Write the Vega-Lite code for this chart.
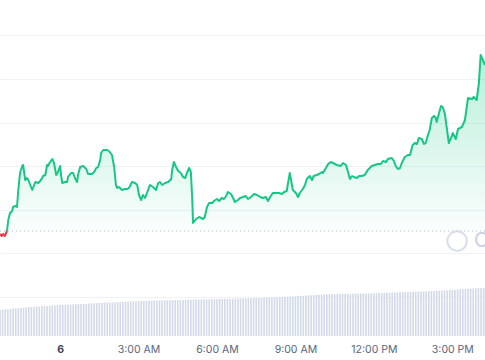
{
"$schema": "https://vega.github.io/schema/vega-lite/v6.json",
"width": 485, "height": 336, "padding": {"left": 0, "right": 0, "top": 0, "bottom": 24}, "autosize": {"type": "none"},
"background": "#ffffff",
"config": {"view": {"stroke": null}, "font": "Inter"},
"encoding": {
  "x": {"field": "time", "type": "temporal",
    "scale": {"domain": ["2024-03-05T21:42", "2024-03-06T16:15"], "padding": 0},
    "axis": {"title": null, "domain": false, "ticks": false, "tickSize": 0, "grid": false,
      "values": ["2024-03-05T21:00", "2024-03-06T00:00", "2024-03-06T03:00", "2024-03-06T06:00", "2024-03-06T09:00", "2024-03-06T12:00", "2024-03-06T15:00"],
      "labelExpr": "hours(datum.value) == 0 ? timeFormat(datum.value, '%-d') : timeFormat(datum.value, '%-I:%M %p')",
      "labelFontWeight": {"condition": {"test": "hours(datum.value) == 0", "value": "bold"}, "value": "normal"},
      "labelColor": {"condition": {"test": "hours(datum.value) == 0", "value": "#3d4452"}, "value": "#58667e"},
      "labelFont": "Inter", "labelFontSize": 10.5, "labelPadding": 8, "labelFlush": false, "labelOverlap": false, "labelBound": false}}
},
"layer": [
  {
    "data": {"values": [
      {"time":"2024-03-05T21:42","volume":26.0},{"time":"2024-03-05T21:48","volume":26.3},{"time":"2024-03-05T21:54","volume":26.6},
      {"time":"2024-03-05T22:00","volume":26.8},{"time":"2024-03-05T22:06","volume":27.0},{"time":"2024-03-05T22:12","volume":27.4},
      {"time":"2024-03-05T22:18","volume":27.6},{"time":"2024-03-05T22:24","volume":27.8},{"time":"2024-03-05T22:30","volume":28.0},
      {"time":"2024-03-05T22:36","volume":28.3},{"time":"2024-03-05T22:42","volume":28.6},{"time":"2024-03-05T22:48","volume":28.9},
      {"time":"2024-03-05T22:54","volume":29.0},{"time":"2024-03-05T23:00","volume":29.2},{"time":"2024-03-05T23:06","volume":29.4},
      {"time":"2024-03-05T23:12","volume":29.5},{"time":"2024-03-05T23:18","volume":29.7},{"time":"2024-03-05T23:24","volume":29.9},
      {"time":"2024-03-05T23:30","volume":30.0},{"time":"2024-03-05T23:36","volume":30.2},{"time":"2024-03-05T23:42","volume":30.4},
      {"time":"2024-03-05T23:48","volume":30.6},{"time":"2024-03-05T23:54","volume":30.8},
      {"time":"2024-03-06T00:00","volume":31.0},{"time":"2024-03-06T00:06","volume":31.1},{"time":"2024-03-06T00:12","volume":31.2},
      {"time":"2024-03-06T00:18","volume":31.4},{"time":"2024-03-06T00:24","volume":31.5},{"time":"2024-03-06T00:30","volume":31.6},
      {"time":"2024-03-06T00:36","volume":31.8},{"time":"2024-03-06T00:42","volume":31.9},{"time":"2024-03-06T00:48","volume":32.0},
      {"time":"2024-03-06T00:54","volume":32.2},{"time":"2024-03-06T01:00","volume":32.3},{"time":"2024-03-06T01:06","volume":32.4},
      {"time":"2024-03-06T01:12","volume":32.6},{"time":"2024-03-06T01:18","volume":32.7},{"time":"2024-03-06T01:24","volume":32.8},
      {"time":"2024-03-06T01:30","volume":33.0},{"time":"2024-03-06T01:36","volume":33.1},{"time":"2024-03-06T01:42","volume":33.3},
      {"time":"2024-03-06T01:48","volume":33.4},{"time":"2024-03-06T01:54","volume":33.5},{"time":"2024-03-06T02:00","volume":33.7},
      {"time":"2024-03-06T02:06","volume":33.8},{"time":"2024-03-06T02:12","volume":33.9},{"time":"2024-03-06T02:18","volume":34.0},
      {"time":"2024-03-06T02:24","volume":34.2},{"time":"2024-03-06T02:30","volume":34.3},{"time":"2024-03-06T02:36","volume":34.5},
      {"time":"2024-03-06T02:42","volume":34.6},{"time":"2024-03-06T02:48","volume":34.7},{"time":"2024-03-06T02:54","volume":34.9},
      {"time":"2024-03-06T03:00","volume":35.0},{"time":"2024-03-06T03:06","volume":35.0},{"time":"2024-03-06T03:12","volume":35.1},
      {"time":"2024-03-06T03:18","volume":35.1},{"time":"2024-03-06T03:24","volume":35.2},{"time":"2024-03-06T03:30","volume":35.3},
      {"time":"2024-03-06T03:36","volume":35.3},{"time":"2024-03-06T03:42","volume":35.4},{"time":"2024-03-06T03:48","volume":35.5},
      {"time":"2024-03-06T03:54","volume":35.5},{"time":"2024-03-06T04:00","volume":35.6},{"time":"2024-03-06T04:06","volume":35.7},
      {"time":"2024-03-06T04:12","volume":35.7},{"time":"2024-03-06T04:18","volume":35.8},{"time":"2024-03-06T04:24","volume":35.9},
      {"time":"2024-03-06T04:30","volume":35.9},{"time":"2024-03-06T04:36","volume":36.0},{"time":"2024-03-06T04:42","volume":36.1},
      {"time":"2024-03-06T04:48","volume":36.1},{"time":"2024-03-06T04:54","volume":36.2},{"time":"2024-03-06T05:00","volume":36.3},
      {"time":"2024-03-06T05:06","volume":36.4},{"time":"2024-03-06T05:12","volume":36.5},{"time":"2024-03-06T05:18","volume":36.5},
      {"time":"2024-03-06T05:24","volume":36.6},{"time":"2024-03-06T05:30","volume":36.7},{"time":"2024-03-06T05:36","volume":36.8},
      {"time":"2024-03-06T05:42","volume":36.8},{"time":"2024-03-06T05:48","volume":36.9},{"time":"2024-03-06T05:54","volume":37.0},
      {"time":"2024-03-06T06:00","volume":37.0},{"time":"2024-03-06T06:06","volume":37.1},{"time":"2024-03-06T06:12","volume":37.1},
      {"time":"2024-03-06T06:18","volume":37.2},{"time":"2024-03-06T06:24","volume":37.2},{"time":"2024-03-06T06:30","volume":37.3},
      {"time":"2024-03-06T06:36","volume":37.3},{"time":"2024-03-06T06:42","volume":37.4},{"time":"2024-03-06T06:48","volume":37.5},
      {"time":"2024-03-06T06:54","volume":37.5},{"time":"2024-03-06T07:00","volume":37.6},{"time":"2024-03-06T07:06","volume":37.7},
      {"time":"2024-03-06T07:12","volume":37.7},{"time":"2024-03-06T07:18","volume":37.8},{"time":"2024-03-06T07:24","volume":37.9},
      {"time":"2024-03-06T07:30","volume":37.9},{"time":"2024-03-06T07:36","volume":38.0},{"time":"2024-03-06T07:42","volume":38.1},
      {"time":"2024-03-06T07:48","volume":38.2},{"time":"2024-03-06T07:54","volume":38.4},{"time":"2024-03-06T08:00","volume":38.5},
      {"time":"2024-03-06T08:06","volume":38.6},{"time":"2024-03-06T08:12","volume":38.7},{"time":"2024-03-06T08:18","volume":38.8},
      {"time":"2024-03-06T08:24","volume":39.0},{"time":"2024-03-06T08:30","volume":39.1},{"time":"2024-03-06T08:36","volume":39.2},
      {"time":"2024-03-06T08:42","volume":39.3},{"time":"2024-03-06T08:48","volume":39.5},{"time":"2024-03-06T08:54","volume":39.6},
      {"time":"2024-03-06T09:00","volume":39.7},{"time":"2024-03-06T09:06","volume":39.9},{"time":"2024-03-06T09:12","volume":40.0},
      {"time":"2024-03-06T09:18","volume":40.2},{"time":"2024-03-06T09:24","volume":40.4},{"time":"2024-03-06T09:30","volume":40.6},
      {"time":"2024-03-06T09:36","volume":40.8},{"time":"2024-03-06T09:42","volume":41.0},{"time":"2024-03-06T09:48","volume":41.2},
      {"time":"2024-03-06T09:54","volume":41.3},{"time":"2024-03-06T10:00","volume":41.5},{"time":"2024-03-06T10:06","volume":41.7},
      {"time":"2024-03-06T10:12","volume":41.8},{"time":"2024-03-06T10:18","volume":41.8},{"time":"2024-03-06T10:24","volume":41.9},
      {"time":"2024-03-06T10:30","volume":41.9},{"time":"2024-03-06T10:36","volume":42.0},{"time":"2024-03-06T10:42","volume":42.0},
      {"time":"2024-03-06T10:48","volume":42.1},{"time":"2024-03-06T10:54","volume":42.1},{"time":"2024-03-06T11:00","volume":42.2},
      {"time":"2024-03-06T11:06","volume":42.2},{"time":"2024-03-06T11:12","volume":42.3},{"time":"2024-03-06T11:18","volume":42.3},
      {"time":"2024-03-06T11:24","volume":42.4},{"time":"2024-03-06T11:30","volume":42.4},{"time":"2024-03-06T11:36","volume":42.5},
      {"time":"2024-03-06T11:42","volume":42.5},{"time":"2024-03-06T11:48","volume":42.6},{"time":"2024-03-06T11:54","volume":42.6},
      {"time":"2024-03-06T12:00","volume":42.7},{"time":"2024-03-06T12:06","volume":42.8},{"time":"2024-03-06T12:12","volume":42.9},
      {"time":"2024-03-06T12:18","volume":43.0},{"time":"2024-03-06T12:24","volume":43.1},{"time":"2024-03-06T12:30","volume":43.2},
      {"time":"2024-03-06T12:36","volume":43.3},{"time":"2024-03-06T12:42","volume":43.4},{"time":"2024-03-06T12:48","volume":43.5},
      {"time":"2024-03-06T12:54","volume":43.6},{"time":"2024-03-06T13:00","volume":43.7},{"time":"2024-03-06T13:06","volume":43.8},
      {"time":"2024-03-06T13:12","volume":43.9},{"time":"2024-03-06T13:18","volume":44.0},{"time":"2024-03-06T13:24","volume":44.1},
      {"time":"2024-03-06T13:30","volume":44.2},{"time":"2024-03-06T13:36","volume":44.3},{"time":"2024-03-06T13:42","volume":44.4},
      {"time":"2024-03-06T13:48","volume":44.5},{"time":"2024-03-06T13:54","volume":44.6},{"time":"2024-03-06T14:00","volume":44.7},
      {"time":"2024-03-06T14:06","volume":44.8},{"time":"2024-03-06T14:12","volume":44.9},{"time":"2024-03-06T14:18","volume":45.0},
      {"time":"2024-03-06T14:24","volume":45.1},{"time":"2024-03-06T14:30","volume":45.3},{"time":"2024-03-06T14:36","volume":45.5},
      {"time":"2024-03-06T14:42","volume":45.6},{"time":"2024-03-06T14:48","volume":45.8},{"time":"2024-03-06T14:54","volume":46.0},
      {"time":"2024-03-06T15:00","volume":46.2},{"time":"2024-03-06T15:06","volume":46.3},{"time":"2024-03-06T15:12","volume":46.5},
      {"time":"2024-03-06T15:18","volume":46.7},{"time":"2024-03-06T15:24","volume":46.9},{"time":"2024-03-06T15:30","volume":47.0},
      {"time":"2024-03-06T15:36","volume":47.2},{"time":"2024-03-06T15:42","volume":47.4},{"time":"2024-03-06T15:48","volume":47.5},
      {"time":"2024-03-06T15:54","volume":47.7},{"time":"2024-03-06T16:00","volume":47.9},{"time":"2024-03-06T16:06","volume":48.0},
      {"time":"2024-03-06T16:12","volume":48.2}
    ]},
    "mark": {"type": "bar", "width": 1.6, "color": "#d2d9e8"},
    "encoding": {"y": {"field": "volume", "type": "quantitative", "scale": {"domain": [0, 336], "nice": false, "zero": true}, "axis": null}}
  },
  {
    "data": {"values": [
      {"time":"2024-03-05T21:42","price":106,"trend":"down"},{"time":"2024-03-05T21:46","price":104,"trend":"down"},
      {"time":"2024-03-05T21:49","price":106,"trend":"down"},{"time":"2024-03-05T21:53","price":104,"trend":"down"},
      {"time":"2024-03-05T21:56","price":107,"trend":"down"},{"time":"2024-03-05T21:58","price":109,"trend":"down"},
      {"time":"2024-03-05T21:58","price":109,"trend":"up"},{"time":"2024-03-05T22:01","price":120,"trend":"up"},
      {"time":"2024-03-05T22:05","price":127,"trend":"up"},{"time":"2024-03-05T22:10","price":129,"trend":"up"},
      {"time":"2024-03-05T22:12","price":133,"trend":"up"},{"time":"2024-03-05T22:17","price":134,"trend":"up"},
      {"time":"2024-03-05T22:21","price":133,"trend":"up"},{"time":"2024-03-05T22:24","price":150,"trend":"up"},
      {"time":"2024-03-05T22:28","price":167,"trend":"up"},{"time":"2024-03-05T22:33","price":174,"trend":"up"},
      {"time":"2024-03-05T22:35","price":175,"trend":"up"},{"time":"2024-03-05T22:40","price":160,"trend":"up"},
      {"time":"2024-03-05T22:44","price":162,"trend":"up"},{"time":"2024-03-05T22:47","price":160,"trend":"up"},
      {"time":"2024-03-05T22:56","price":150,"trend":"up"},{"time":"2024-03-05T23:03","price":158,"trend":"up"},
      {"time":"2024-03-05T23:10","price":157,"trend":"up"},{"time":"2024-03-05T23:16","price":160,"trend":"up"},
      {"time":"2024-03-05T23:21","price":164,"trend":"up"},{"time":"2024-03-05T23:26","price":165,"trend":"up"},
      {"time":"2024-03-05T23:30","price":175,"trend":"up"},{"time":"2024-03-05T23:32","price":174,"trend":"up"},
      {"time":"2024-03-05T23:37","price":178,"trend":"up"},{"time":"2024-03-05T23:42","price":181,"trend":"up"},
      {"time":"2024-03-05T23:46","price":177,"trend":"up"},{"time":"2024-03-05T23:51","price":165,"trend":"up"},
      {"time":"2024-03-05T23:55","price":168,"trend":"up"},{"time":"2024-03-06T00:00","price":174,"trend":"up"},
      {"time":"2024-03-06T00:02","price":165,"trend":"up"},{"time":"2024-03-06T00:05","price":157,"trend":"up"},
      {"time":"2024-03-06T00:11","price":158,"trend":"up"},{"time":"2024-03-06T00:16","price":158,"trend":"up"},
      {"time":"2024-03-06T00:18","price":163,"trend":"up"},{"time":"2024-03-06T00:25","price":167,"trend":"up"},
      {"time":"2024-03-06T00:30","price":167,"trend":"up"},{"time":"2024-03-06T00:34","price":162,"trend":"up"},
      {"time":"2024-03-06T00:39","price":158,"trend":"up"},{"time":"2024-03-06T00:41","price":165,"trend":"up"},
      {"time":"2024-03-06T00:46","price":173,"trend":"up"},{"time":"2024-03-06T00:53","price":174,"trend":"up"},
      {"time":"2024-03-06T01:00","price":171,"trend":"up"},{"time":"2024-03-06T01:04","price":166,"trend":"up"},
      {"time":"2024-03-06T01:13","price":166,"trend":"up"},{"time":"2024-03-06T01:18","price":168,"trend":"up"},
      {"time":"2024-03-06T01:23","price":172,"trend":"up"},{"time":"2024-03-06T01:27","price":173,"trend":"up"},
      {"time":"2024-03-06T01:32","price":180,"trend":"up"},{"time":"2024-03-06T01:34","price":187,"trend":"up"},
      {"time":"2024-03-06T01:39","price":190,"trend":"up"},{"time":"2024-03-06T01:48","price":190,"trend":"up"},
      {"time":"2024-03-06T01:52","price":189,"trend":"up"},{"time":"2024-03-06T01:59","price":185,"trend":"up"},
      {"time":"2024-03-06T02:04","price":173,"trend":"up"},{"time":"2024-03-06T02:08","price":155,"trend":"up"},
      {"time":"2024-03-06T02:11","price":152,"trend":"up"},{"time":"2024-03-06T02:15","price":153,"trend":"up"},
      {"time":"2024-03-06T02:22","price":150,"trend":"up"},{"time":"2024-03-06T02:29","price":151,"trend":"up"},
      {"time":"2024-03-06T02:34","price":151,"trend":"up"},{"time":"2024-03-06T02:38","price":152,"trend":"up"},
      {"time":"2024-03-06T02:45","price":158,"trend":"up"},{"time":"2024-03-06T02:52","price":157,"trend":"up"},
      {"time":"2024-03-06T02:57","price":155,"trend":"up"},{"time":"2024-03-06T03:01","price":145,"trend":"up"},
      {"time":"2024-03-06T03:06","price":140,"trend":"up"},{"time":"2024-03-06T03:10","price":145,"trend":"up"},
      {"time":"2024-03-06T03:15","price":142,"trend":"up"},{"time":"2024-03-06T03:20","price":148,"trend":"up"},
      {"time":"2024-03-06T03:26","price":155,"trend":"up"},{"time":"2024-03-06T03:33","price":153,"trend":"up"},
      {"time":"2024-03-06T03:40","price":150,"trend":"up"},{"time":"2024-03-06T03:45","price":157,"trend":"up"},
      {"time":"2024-03-06T03:49","price":158,"trend":"up"},{"time":"2024-03-06T03:54","price":155,"trend":"up"},
      {"time":"2024-03-06T04:01","price":157,"trend":"up"},{"time":"2024-03-06T04:08","price":158,"trend":"up"},
      {"time":"2024-03-06T04:15","price":161,"trend":"up"},{"time":"2024-03-06T04:17","price":170,"trend":"up"},
      {"time":"2024-03-06T04:21","price":178,"trend":"up"},{"time":"2024-03-06T04:26","price":173,"trend":"up"},
      {"time":"2024-03-06T04:31","price":169,"trend":"up"},{"time":"2024-03-06T04:37","price":167,"trend":"up"},
      {"time":"2024-03-06T04:42","price":163,"trend":"up"},{"time":"2024-03-06T04:47","price":162,"trend":"up"},
      {"time":"2024-03-06T04:51","price":167,"trend":"up"},{"time":"2024-03-06T04:56","price":172,"trend":"up"},
      {"time":"2024-03-06T05:00","price":168,"trend":"up"},{"time":"2024-03-06T05:03","price":143,"trend":"up"},
      {"time":"2024-03-06T05:05","price":117,"trend":"up"},{"time":"2024-03-06T05:12","price":121,"trend":"up"},
      {"time":"2024-03-06T05:19","price":123,"trend":"up"},{"time":"2024-03-06T05:28","price":121,"trend":"up"},
      {"time":"2024-03-06T05:32","price":123,"trend":"up"},{"time":"2024-03-06T05:37","price":133,"trend":"up"},
      {"time":"2024-03-06T05:42","price":137,"trend":"up"},{"time":"2024-03-06T05:49","price":137,"trend":"up"},
      {"time":"2024-03-06T05:53","price":139,"trend":"up"},{"time":"2024-03-06T06:00","price":141,"trend":"up"},
      {"time":"2024-03-06T06:05","price":139,"trend":"up"},{"time":"2024-03-06T06:11","price":142,"trend":"up"},
      {"time":"2024-03-06T06:16","price":141,"trend":"up"},{"time":"2024-03-06T06:21","price":144,"trend":"up"},
      {"time":"2024-03-06T06:25","price":148,"trend":"up"},{"time":"2024-03-06T06:32","price":146,"trend":"up"},
      {"time":"2024-03-06T06:37","price":142,"trend":"up"},{"time":"2024-03-06T06:41","price":138,"trend":"up"},
      {"time":"2024-03-06T06:48","price":140,"trend":"up"},{"time":"2024-03-06T06:53","price":142,"trend":"up"},
      {"time":"2024-03-06T07:00","price":143,"trend":"up"},{"time":"2024-03-06T07:06","price":144,"trend":"up"},
      {"time":"2024-03-06T07:11","price":141,"trend":"up"},{"time":"2024-03-06T07:18","price":143,"trend":"up"},
      {"time":"2024-03-06T07:25","price":146,"trend":"up"},{"time":"2024-03-06T07:32","price":145,"trend":"up"},
      {"time":"2024-03-06T07:39","price":143,"trend":"up"},{"time":"2024-03-06T07:45","price":142,"trend":"up"},
      {"time":"2024-03-06T07:52","price":143,"trend":"up"},{"time":"2024-03-06T07:57","price":139,"trend":"up"},
      {"time":"2024-03-06T08:02","price":143,"trend":"up"},{"time":"2024-03-06T08:08","price":147,"trend":"up"},
      {"time":"2024-03-06T08:15","price":147,"trend":"up"},{"time":"2024-03-06T08:22","price":147,"trend":"up"},
      {"time":"2024-03-06T08:29","price":146,"trend":"up"},{"time":"2024-03-06T08:34","price":148,"trend":"up"},
      {"time":"2024-03-06T08:40","price":149,"trend":"up"},{"time":"2024-03-06T08:43","price":157,"trend":"up"},
      {"time":"2024-03-06T08:47","price":167,"trend":"up"},{"time":"2024-03-06T08:52","price":155,"trend":"up"},
      {"time":"2024-03-06T08:54","price":150,"trend":"up"},{"time":"2024-03-06T09:01","price":147,"trend":"up"},
      {"time":"2024-03-06T09:06","price":143,"trend":"up"},{"time":"2024-03-06T09:10","price":147,"trend":"up"},
      {"time":"2024-03-06T09:17","price":151,"trend":"up"},{"time":"2024-03-06T09:22","price":155,"trend":"up"},
      {"time":"2024-03-06T09:26","price":161,"trend":"up"},{"time":"2024-03-06T09:33","price":164,"trend":"up"},
      {"time":"2024-03-06T09:38","price":160,"trend":"up"},{"time":"2024-03-06T09:42","price":164,"trend":"up"},
      {"time":"2024-03-06T09:49","price":165,"trend":"up"},{"time":"2024-03-06T09:54","price":166,"trend":"up"},
      {"time":"2024-03-06T10:01","price":168,"trend":"up"},{"time":"2024-03-06T10:03","price":167,"trend":"up"},
      {"time":"2024-03-06T10:10","price":172,"trend":"up"},{"time":"2024-03-06T10:15","price":176,"trend":"up"},
      {"time":"2024-03-06T10:21","price":178,"trend":"up"},{"time":"2024-03-06T10:26","price":177,"trend":"up"},
      {"time":"2024-03-06T10:35","price":175,"trend":"up"},{"time":"2024-03-06T10:44","price":174,"trend":"up"},
      {"time":"2024-03-06T10:49","price":177,"trend":"up"},{"time":"2024-03-06T10:56","price":175,"trend":"up"},
      {"time":"2024-03-06T11:00","price":169,"trend":"up"},{"time":"2024-03-06T11:05","price":161,"trend":"up"},
      {"time":"2024-03-06T11:10","price":164,"trend":"up"},{"time":"2024-03-06T11:14","price":163,"trend":"up"},
      {"time":"2024-03-06T11:21","price":162,"trend":"up"},{"time":"2024-03-06T11:26","price":164,"trend":"up"},
      {"time":"2024-03-06T11:32","price":164,"trend":"up"},{"time":"2024-03-06T11:39","price":165,"trend":"up"},
      {"time":"2024-03-06T11:46","price":170,"trend":"up"},{"time":"2024-03-06T11:55","price":174,"trend":"up"},
      {"time":"2024-03-06T12:02","price":175,"trend":"up"},{"time":"2024-03-06T12:09","price":176,"trend":"up"},
      {"time":"2024-03-06T12:16","price":176,"trend":"up"},{"time":"2024-03-06T12:21","price":179,"trend":"up"},
      {"time":"2024-03-06T12:28","price":178,"trend":"up"},{"time":"2024-03-06T12:32","price":181,"trend":"up"},
      {"time":"2024-03-06T12:41","price":182,"trend":"up"},{"time":"2024-03-06T12:46","price":179,"trend":"up"},
      {"time":"2024-03-06T12:50","price":174,"trend":"up"},{"time":"2024-03-06T12:55","price":171,"trend":"up"},
      {"time":"2024-03-06T13:00","price":172,"trend":"up"},{"time":"2024-03-06T13:04","price":177,"trend":"up"},
      {"time":"2024-03-06T13:11","price":183,"trend":"up"},{"time":"2024-03-06T13:18","price":185,"trend":"up"},
      {"time":"2024-03-06T13:23","price":185,"trend":"up"},{"time":"2024-03-06T13:29","price":195,"trend":"up"},
      {"time":"2024-03-06T13:34","price":197,"trend":"up"},{"time":"2024-03-06T13:39","price":196,"trend":"up"},
      {"time":"2024-03-06T13:43","price":202,"trend":"up"},{"time":"2024-03-06T13:50","price":201,"trend":"up"},
      {"time":"2024-03-06T13:55","price":196,"trend":"up"},{"time":"2024-03-06T13:59","price":197,"trend":"up"},
      {"time":"2024-03-06T14:04","price":205,"trend":"up"},{"time":"2024-03-06T14:08","price":210,"trend":"up"},
      {"time":"2024-03-06T14:13","price":222,"trend":"up"},{"time":"2024-03-06T14:18","price":224,"trend":"up"},
      {"time":"2024-03-06T14:22","price":222,"trend":"up"},{"time":"2024-03-06T14:24","price":218,"trend":"up"},
      {"time":"2024-03-06T14:29","price":226,"trend":"up"},{"time":"2024-03-06T14:34","price":234,"trend":"up"},
      {"time":"2024-03-06T14:38","price":233,"trend":"up"},{"time":"2024-03-06T14:43","price":226,"trend":"up"},
      {"time":"2024-03-06T14:47","price":213,"trend":"up"},{"time":"2024-03-06T14:52","price":197,"trend":"up"},
      {"time":"2024-03-06T14:59","price":204,"trend":"up"},{"time":"2024-03-06T15:01","price":207,"trend":"up"},
      {"time":"2024-03-06T15:08","price":201,"trend":"up"},{"time":"2024-03-06T15:13","price":211,"trend":"up"},
      {"time":"2024-03-06T15:22","price":213,"trend":"up"},{"time":"2024-03-06T15:29","price":220,"trend":"up"},
      {"time":"2024-03-06T15:36","price":242,"trend":"up"},{"time":"2024-03-06T15:45","price":241,"trend":"up"},
      {"time":"2024-03-06T15:49","price":243,"trend":"up"},{"time":"2024-03-06T15:56","price":240,"trend":"up"},
      {"time":"2024-03-06T16:01","price":257,"trend":"up"},{"time":"2024-03-06T16:05","price":285,"trend":"up"},
      {"time":"2024-03-06T16:10","price":280,"trend":"up"},{"time":"2024-03-06T16:15","price":275,"trend":"up"}
    ]},
    "encoding": {"y": {"field": "price", "type": "quantitative",
      "scale": {"domain": [4, 340], "nice": false, "zero": false},
      "axis": {"title": null, "labels": false, "ticks": false, "domain": false, "grid": true,
        "gridColor": "#eff2f5", "gridWidth": 1,
        "values": [43.5, 87, 130.5, 174, 217.5, 261, 304.5]}}},
    "layer": [
      {"transform": [{"filter": "datum.trend == 'up'"}],
       "mark": {"type": "area", "interpolate": "linear",
         "color": {"gradient": "linear", "x1": 0, "y1": 0, "x2": 0, "y2": 1,
           "stops": [{"offset": 0, "color": "rgba(22,199,132,0.30)"}, {"offset": 1, "color": "rgba(22,199,132,0.02)"}]}},
       "encoding": {"y2": {"datum": 109}}},
      {"data": {"values": [{"time": "2024-03-05T21:42", "price": 109}, {"time": "2024-03-06T16:15", "price": 109}]},
       "mark": {"type": "line", "color": "#b4bccb", "strokeWidth": 1, "strokeDash": [1, 3]}},
      {"transform": [{"filter": "datum.trend == 'up'"}],
       "mark": {"type": "line", "color": "#16c784", "strokeWidth": 2, "strokeJoin": "round"}},
      {"transform": [{"filter": "datum.trend == 'down'"}],
       "mark": {"type": "line", "color": "#ea3943", "strokeWidth": 2, "strokeJoin": "round"}},
      {"data": {"values": [{"time": "2024-03-06T15:11", "price": 99, "label": "CoinGecko"}]},
       "mark": {"type": "point", "shape": "circle", "filled": false, "size": 380, "stroke": "#c9d0e0", "strokeWidth": 2}},
      {"data": {"values": [{"time": "2024-03-06T15:50", "price": 99, "label": "CoinGecko"}]},
       "mark": {"type": "text", "align": "left", "baseline": "middle", "fontSize": 20, "font": "Inter", "color": "#c9d0e0"},
       "encoding": {"text": {"field": "label"}}}
    ]
  }
],
"resolve": {"scale": {"y": "independent"}}
}
